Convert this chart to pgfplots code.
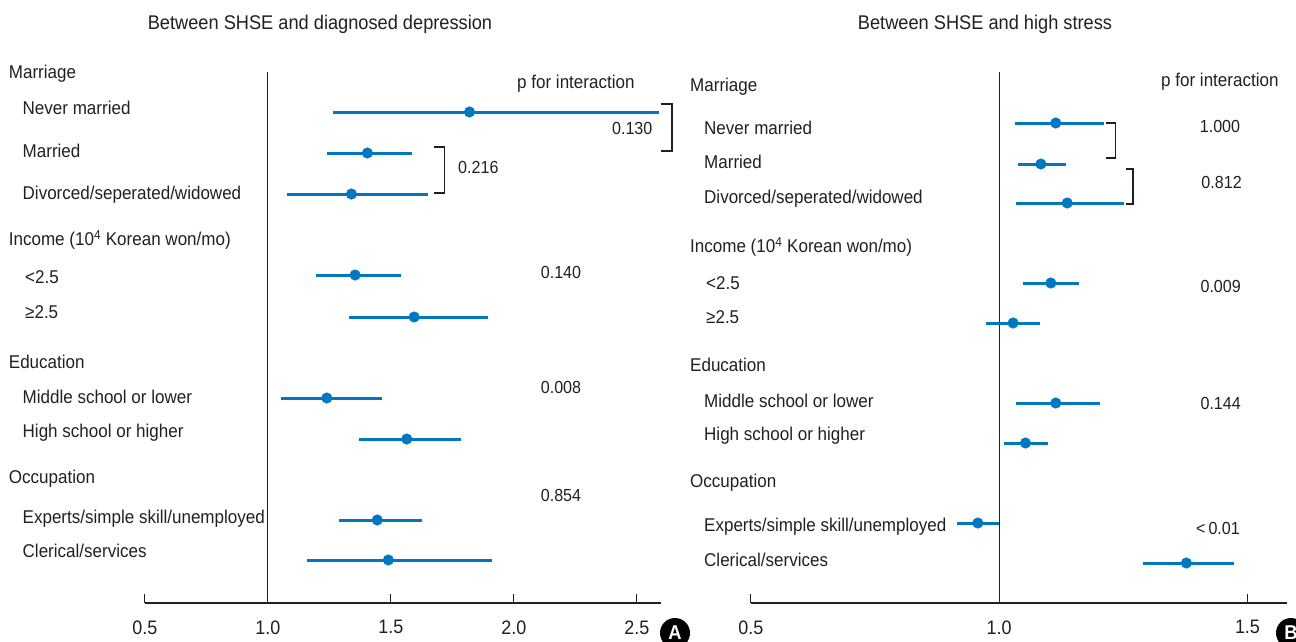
\documentclass[border=0pt]{standalone}
\usepackage{pgfplots}
\pgfplotsset{compat=1.18}
\usepackage{pgfplotstable}
\usepackage{fontspec}
\setmainfont{Liberation Sans}[FakeStretch=0.92]
\definecolor{fblue}{RGB}{0,120,193}
\definecolor{txt}{RGB}{35,31,32}
\newcommand\lab{\fontsize{18.5pt}{20pt}\selectfont}
\newcommand\ttl{\fontsize{19.8pt}{21pt}\selectfont}
\newcommand\pv{\fontsize{17.5pt}{19pt}\selectfont}
\newcommand\tk{\fontsize{19.5pt}{21pt}\selectfont}

% x = estimate, lo/hi = CI, y = row position
\pgfplotstableread{
x lo hi y
1.820 1.265 2.590 -112
1.405 1.240 1.585 -153
1.340 1.080 1.650 -194
1.355 1.195 1.540 -275
1.595 1.330 1.895 -317
1.240 1.055 1.465 -398
1.565 1.370 1.785 -439
1.445 1.290 1.625 -520
1.490 1.160 1.910 -560
}\leftdata
\pgfplotstableread{
x lo hi y
1.114 1.031 1.212 -123
1.084 1.037 1.135 -164
1.137 1.033 1.251 -203
1.104 1.048 1.161 -283
1.028 0.974 1.083 -323
1.114 1.033 1.202 -403
1.053 1.010 1.099 -443
0.957 0.916 1.000 -523
1.377 1.289 1.472 -563
}\rightdata

\pgfplotsset{fp/.style={
  scale only axis, height=543pt, ymin=-603, ymax=-60,
  anchor=south west,
  axis y line=none, axis x line*=bottom,
  xtick align=inside, major tick length=9pt,
  tick style={txt, line width=1.1pt},
  axis line style={txt, line width=1.1pt},
  xticklabel style={font=\tk, text=txt, yshift=-14pt},
  clip=false,
}}

\begin{document}
\begin{tikzpicture}[x=1pt,y=1pt]
\useasboundingbox (0,0) rectangle (1296,-642);

\begin{axis}[fp, at={(144.8pt,-603pt)}, width=516.6pt,
  xmin=0.5, xmax=2.6, xtick={0.5,1,1.5,2,2.5}, xticklabels={0.5,1.0,1.5,2.0,2.5}]
\addplot[txt, line width=1.1pt] coordinates {(1,-72) (1,-603)};
\addplot[only marks, mark=*, mark size=5.3pt, color=fblue,
  error bars/.cd, x dir=both, x explicit, error mark=none,
  error bar style={line width=3pt, fblue}]
  table[x=x, y=y, x error plus expr=\thisrow{hi}-\thisrow{x},
        x error minus expr=\thisrow{x}-\thisrow{lo}] {\leftdata};
\end{axis}

\begin{axis}[fp, at={(750.9pt,-603pt)}, width=536.3pt,
  xmin=0.5, xmax=1.58, xtick={0.5,1,1.5}, xticklabels={0.5,1.0,1.5}]
\addplot[txt, line width=1.1pt] coordinates {(1,-72) (1,-603)};
\addplot[only marks, mark=*, mark size=5.3pt, color=fblue,
  error bars/.cd, x dir=both, x explicit, error mark=none,
  error bar style={line width=3pt, fblue}]
  table[x=x, y=y, x error plus expr=\thisrow{hi}-\thisrow{x},
        x error minus expr=\thisrow{x}-\thisrow{lo}] {\rightdata};
\end{axis}

% titles
\node[anchor=base, text=txt, font=\ttl] at (320,-29.5) {Between SHSE and diagnosed depression};
\node[anchor=base, text=txt, font=\ttl] at (985,-29.5) {Between SHSE and high stress};

% left labels
\begin{scope}[every node/.style={anchor=base west, text=txt, font=\lab, inner sep=0pt}]
\node at (8.7,-78.5) {Marriage};
\node at (22.5,-114.5) {Never married};
\node at (22.5,-157.5) {Married};
\node at (22.5,-199.5) {Divorced/seperated/widowed};
\node at (8.7,-245.5) {Income (10\textsuperscript{4} Korean won/mo)};
\node at (25,-283.5) {<2.5};
\node at (25,-318.5) {≥2.5};
\node at (8.7,-368.5) {Education};
\node at (22.5,-403.5) {Middle school or lower};
\node at (22.5,-437.5) {High school or higher};
\node at (8.7,-483.5) {Occupation};
\node at (22.5,-523.5) {Experts/simple skill/unemployed};
\node at (22.5,-557.5) {Clerical/services};
% right labels
\node at (690,-91.5) {Marriage};
\node at (704,-134.5) {Never married};
\node at (704,-168.5) {Married};
\node at (704,-203.5) {Divorced/seperated/widowed};
\node at (690,-252.5) {Income (10\textsuperscript{4} Korean won/mo)};
\node at (706,-289.5) {<2.5};
\node at (706,-323.5) {≥2.5};
\node at (690,-371.5) {Education};
\node at (704,-407.5) {Middle school or lower};
\node at (704,-440.5) {High school or higher};
\node at (690,-487.5) {Occupation};
\node at (704,-531.5) {Experts/simple skill/unemployed};
\node at (704,-566.5) {Clerical/services};
\node at (517,-88.5) {p for interaction};
\node at (1161,-86.5) {p for interaction};
\node[font=\pv] at (458,-173.5) {0.216};
\end{scope}

% p-values
\begin{scope}[every node/.style={anchor=base, text=txt, font=\pv, inner sep=0pt}]
\node[anchor=base east] at (652.6,-134.5) {0.130};
\node at (561,-278.5) {0.140};
\node at (561,-393.5) {0.008};
\node at (561,-501.5) {0.854};
\node at (1220,-132.5) {1.000};
\node at (1221.6,-188.5) {0.812};
\node at (1220.7,-292.5) {0.009};
\node at (1220.7,-409.5) {0.144};
\node at (1218,-534.5) {<\,0.01};
\end{scope}

% brackets
\begin{scope}[txt, line width=1.2pt]
\draw (661,-104) -- (672,-104) -- (672,-151) -- (661,-151);
\draw (433.6,-147) -- (444.5,-147) -- (444.5,-193) -- (433.6,-193);
\draw (1105.7,-123) -- (1115.7,-123) -- (1115.7,-158) -- (1105.7,-158);
\draw (1126,-169) -- (1133,-169) -- (1133,-204) -- (1126,-204);
\end{scope}

% panel letters
\node[circle, fill=black, text=white, inner sep=0pt, minimum size=30pt, font=\fontsize{20pt}{21pt}\selectfont\bfseries] at (675,-633) {A};
\node[circle, fill=black, text=white, inner sep=0pt, minimum size=30pt, font=\fontsize{20pt}{21pt}\selectfont\bfseries] at (1291,-633) {B};
\end{tikzpicture}
\end{document}
